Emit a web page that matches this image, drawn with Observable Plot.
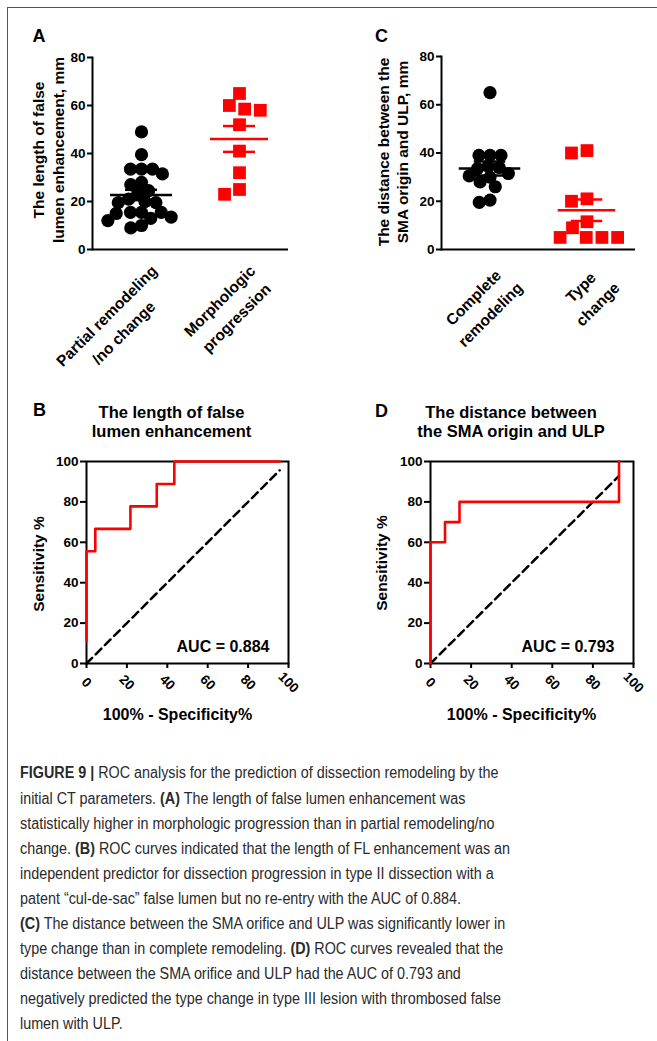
<!DOCTYPE html>
<html><head><meta charset="utf-8">
<script src="https://cdn.jsdelivr.net/npm/d3@7"></script>
<script src="https://cdn.jsdelivr.net/npm/@observablehq/plot@0.6"></script>
<style>
body{margin:0;background:#fff;}
#fig{position:relative;width:657px;height:1041px;overflow:hidden;font-family:"Liberation Sans",Arial,sans-serif;color:#000;}
#frameline{position:absolute;left:7px;top:7px;width:700px;height:1100px;border-top:1px solid #555;border-left:1px solid #555;}
.t{position:absolute;white-space:pre;}
.plot{position:absolute;}
.cap{position:absolute;left:20px;white-space:pre;font-family:"Liberation Sans Narrow","Liberation Sans",Arial,sans-serif;font-size:16px;line-height:0;color:#2a2a2a;transform-origin:0 0;}
.cap b{font-weight:bold;}
</style></head>
<body><div id="fig"><div id="frameline"></div></div>
<script>
// ---------------- data ----------------
const groupsA = ["Partial remodeling\n/no change", "Morphologic\nprogression"];
const lengthPartial = [49, 39.5, 33.5, 33.5, 31.5, 33.5, 28, 27, 23.5, 24.5, 21, 19.5, 19.5, 20, 15.5, 15.5, 15, 15.5, 12, 13.5, 13, 9, 10];
const lengthMorph = [65, 60, 58.5, 58, 52, 41, 32, 25, 23];
const groupsC = ["Complete\nremodeling", "Type\nchange"];
const distComplete = [65, 39, 39, 39, 33.5, 34, 34.5, 30.5, 31.5, 30, 26, 28, 19.5, 20.5];
const distType = [41, 40, 21, 20, 11.5, 9, 5, 5, 5, 5];
const scatterTicks = [0, 20, 40, 60, 80];
const rocTicks = [0, 20, 40, 60, 80, 100];
const rocB_fpr = [0, 0, 4.35, 21.74, 34.78, 43.48, 95.65];
const rocB_tpr = [11.11, 55.56, 66.67, 77.78, 88.89, 100, 100];
const rocD_fpr = [0, 0, 7.14, 14.29, 92.86];
const rocD_tpr = [0, 60, 70, 80, 100];
const aucB = "AUC = 0.884";
const aucD = "AUC = 0.793";

// ---------------- helpers ----------------
const fig = document.getElementById("fig");
const FONT = '"Liberation Sans", Arial, sans-serif';
const ctx = document.createElement("canvas").getContext("2d");
const RED = "#ff0000";

function addText(lines, o) {
  const d = document.createElement("div");
  d.className = "t";
  const size = o.size, lh = o.lh || size * 1.2;
  d.style.fontSize = size + "px";
  d.style.fontWeight = o.weight || "bold";
  d.style.lineHeight = lh + "px";
  d.style.textAlign = o.align || "center";
  d.textContent = lines.join("\n");
  const a = 0.3465 * size, n = lines.length;
  if (o.rotate) {
    const cx = o.x + n * lh / 2 - lh / 2 - a;
    d.style.left = cx + "px"; d.style.top = o.y + "px";
    d.style.transform = "translate(-50%,-50%) rotate(-90deg)";
  } else {
    d.style.left = o.x + "px";
    d.style.top = (o.y - lh / 2 - a) + "px";
    const tx = o.anchor === "middle" ? "-50%" : o.anchor === "end" ? "-100%" : "0";
    d.style.transform = `translateX(${tx})`;
  }
  fig.appendChild(d);
}

function place(svg, left, top) {
  svg.classList.add("plot");
  svg.style.left = left + "px"; svg.style.top = top + "px";
  fig.appendChild(svg);
}

function catLabels(cats, fontSize, lh) {
  const k = Math.SQRT1_2;
  ctx.font = `bold ${fontSize}px ${FONT}`;
  return cats.map(c => {
    const lines = c.split("\n");
    const L = d3.max(lines, l => ctx.measureText(l).width);
    const uc = -4 - L / 2, vc = 20 + (lines.length - 1) * lh / 2;
    return Plot.text([c], {
      fx: d => d, text: d => d, frameAnchor: "bottom", rotate: -45,
      textAnchor: "middle", lineAnchor: "middle", lineHeight: lh / fontSize,
      fontSize, fontWeight: "bold", fill: "black",
      dx: k * (uc + vc), dy: k * (vc - uc)
    });
  });
}

function scatter(cats, vals, dims, widths) {
  const rows = cats.flatMap((c, i) => vals[i].map(v => ({cat: c, v})));
  const plotH = dims.height - dims.marginTop - dims.marginBottom;
  const tickLen = 6 * 80 / plotH; // 6px expressed in data units
  const stats = cats.map((c, i) => {
    const m = d3.mean(vals[i]);
    const s = d3.deviation(vals[i]) / Math.sqrt(vals[i].length);
    return {cat: c, mean: m, lo: m - s, hi: m + s, t0: 0, t1: -tickLen, color: i ? RED : "black"};
  });
  const g0 = rows.filter(d => d.cat === cats[0]).sort((a, b) => b.v - a.v);
  const g1 = rows.filter(d => d.cat === cats[1]).sort((a, b) => b.v - a.v);
  const bw = (dims.width - dims.marginLeft - dims.marginRight) / 2;
  const statMarks = stats.flatMap((s, i) => [
    Plot.ruleY([s], {fx: "cat", y: "mean", stroke: "color", strokeWidth: 2.5, insetLeft: (bw - widths.mean[i]) / 2, insetRight: (bw - widths.mean[i]) / 2}),
    Plot.ruleY([s], {fx: "cat", y: "hi", stroke: "color", strokeWidth: 2.5, insetLeft: (bw - widths.cap) / 2, insetRight: (bw - widths.cap) / 2}),
    Plot.ruleY([s], {fx: "cat", y: "lo", stroke: "color", strokeWidth: 2.5, insetLeft: (bw - widths.cap) / 2, insetRight: (bw - widths.cap) / 2}),
    Plot.ruleX([s], {fx: "cat", y1: "lo", y2: "hi", stroke: "color", strokeWidth: 2.5})
  ]);
  return Plot.plot({
    ...dims,
    style: {fontFamily: FONT, fontSize: "13.5px", fontWeight: "bold", color: "black", background: "transparent", overflow: "visible"},
    fx: {domain: cats, paddingInner: 0, paddingOuter: 0, axis: null},
    y: {domain: [0, 80], axis: null, clamp: false},
    color: {type: "identity"},
    marks: [
      Plot.ruleY([0], {strokeWidth: 2}),
      Plot.frame({anchor: "left", facet: "super", strokeWidth: 2}),
      Plot.axisY({ticks: scatterTicks, tickSize: 5, tickPadding: 2, strokeWidth: 2, label: null}),
      // category tick marks below the x axis line
      Plot.ruleX(stats, {fx: "cat", y1: "t0", y2: "t1", stroke: "black", strokeWidth: 2}),
      Plot.dot(g0, Plot.dodgeX({anchor: "middle", padding: -2.2}, {fx: "cat", y: "v", r: 6.6, fill: "black", symbol: "circle"})),
      Plot.dot(g1, Plot.dodgeX({anchor: "middle", padding: 1.3}, {fx: "cat", y: "v", r: 7.2, fill: RED, symbol: "square"})),
      ...statMarks,
      ...catLabels(cats, 15.5, 24)
    ]
  });
}

function roc(fpr, tpr, auc, dims) {
  const pts = fpr.map((x, i) => ({x, y: tpr[i]}));
  const end = fpr[fpr.length - 1];
  const diag = [{x: 0, y: 0}, {x: end, y: end}];
  return Plot.plot({
    ...dims,
    style: {fontFamily: FONT, fontSize: "13.5px", fontWeight: "bold", color: "black", background: "transparent", overflow: "visible"},
    x: {domain: [0, 100], axis: null},
    y: {domain: [0, 100], axis: null},
    marks: [
      Plot.frame({strokeWidth: 2, stroke: "black"}),
      Plot.axisY({ticks: rocTicks, tickSize: 6, tickPadding: 2, strokeWidth: 2, label: null}),
      Plot.axisX({ticks: rocTicks, tickSize: 5, strokeWidth: 2, tickFormat: () => null, label: null}),
      Plot.text(rocTicks, {x: d => d, text: d => String(d), frameAnchor: "bottom", rotate: 45, textAnchor: "middle", lineAnchor: "middle", dy: 19, fontSize: 13.5, fontWeight: "bold"}),
      Plot.line(diag, {x: "x", y: "y", stroke: "black", strokeWidth: 2.5, strokeDasharray: "8,5"}),
      Plot.line(pts, {x: "x", y: "y", curve: "step-after", stroke: RED, strokeWidth: 2.6}),
      Plot.text([auc], {text: d => d, frameAnchor: "bottom-right", textAnchor: "end", lineAnchor: "bottom", dx: -19, dy: -12, fontSize: 16, fontWeight: "bold"})
    ]
  });
}

// ---------------- panels ----------------
place(scatter(groupsA, [lengthPartial, lengthMorph],
  {width: 290, height: 340, marginLeft: 72, marginRight: 22, marginTop: 17, marginBottom: 131},
  {mean: [62, 58], cap: 32}), 20, 40);
place(scatter(groupsC, [distComplete, distType],
  {width: 290, height: 340, marginLeft: 80, marginRight: 15, marginTop: 16, marginBottom: 131},
  {mean: [62, 58], cap: 32}), 360, 40);
place(roc(rocB_fpr, rocB_tpr, aucB,
  {width: 290, height: 290, marginLeft: 66, marginRight: 22, marginTop: 21, marginBottom: 67}), 20, 440);
place(roc(rocD_fpr, rocD_tpr, aucD,
  {width: 290, height: 290, marginLeft: 70, marginRight: 17, marginTop: 21, marginBottom: 67}), 360, 440);

// ---------------- titles & labels ----------------
addText(["A"], {x: 32.5, y: 43.5, size: 18});
addText(["C"], {x: 375, y: 43.5, size: 18});
addText(["B"], {x: 33, y: 417, size: 18});
addText(["D"], {x: 375, y: 418, size: 18});
addText(["The length of false", "lumen enhancement, mm"], {x: 43.5, y: 150, size: 15.5, lh: 19.5, rotate: true});
addText(["The distance between the", "SMA origin and ULP, mm"], {x: 389.5, y: 152, size: 15.5, lh: 18.5, rotate: true});
addText(["The length of false", "lumen enhancement"], {x: 171.5, y: 418, size: 16.5, lh: 18.5, anchor: "middle"});
addText(["The distance between", "the SMA origin and ULP"], {x: 511, y: 418, size: 16.5, lh: 18.5, anchor: "middle"});
addText(["Sensitivity %"], {x: 44.5, y: 563.5, size: 15.5, rotate: true});
addText(["Sensitivity %"], {x: 387.5, y: 562.5, size: 15.5, rotate: true});
addText(["100% - Specificity%"], {x: 177.5, y: 720, size: 16, anchor: "middle"});
addText(["100% - Specificity%"], {x: 521.5, y: 720, size: 16, anchor: "middle"});

// ---------------- caption ----------------
const captionLines = [
  "<b>FIGURE 9 |</b> ROC analysis for the prediction of dissection remodeling by the",
  "initial CT parameters. <b>(A)</b> The length of false lumen enhancement was",
  "statistically higher in morphologic progression than in partial remodeling/no",
  "change. <b>(B)</b> ROC curves indicated that the length of FL enhancement was an",
  "independent predictor for dissection progression in type II dissection with a",
  "patent \u201ccul-de-sac\u201d false lumen but no re-entry with the AUC of 0.884.",
  "<b>(C)</b> The distance between the SMA orifice and ULP was significantly lower in",
  "type change than in complete remodeling. <b>(D)</b> ROC curves revealed that the",
  "distance between the SMA orifice and ULP had the AUC of 0.793 and",
  "negatively predicted the type change in type III lesion with thrombosed false",
  "lumen with ULP."
];
const capEls = captionLines.map((html, i) => {
  const d = document.createElement("div");
  d.className = "cap";
  d.innerHTML = html;
  d.style.top = (779 + 25.1 * i - 0.3465 * 16) + "px";
  fig.appendChild(d);
  return d;
});
const w4 = capEls[3].getBoundingClientRect().width;
const sx = 490 / w4;
capEls.forEach(d => d.style.transform = `scaleX(${sx})`);
</script>
</body></html>
